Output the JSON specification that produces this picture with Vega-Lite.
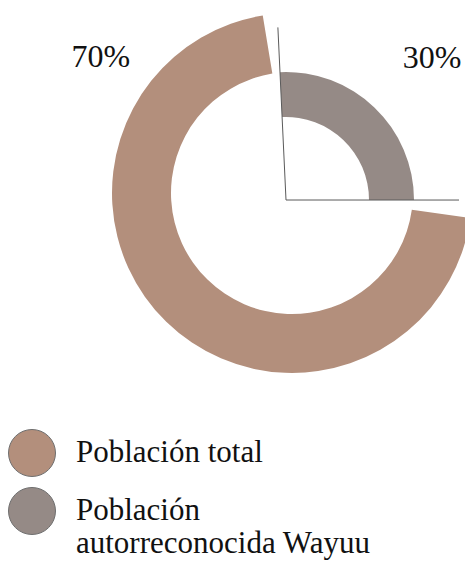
{
  "$schema": "https://vega.github.io/schema/vega-lite/v6.json",
  "width": 346,
  "height": 386,
  "autosize": {"type": "none"},
  "padding": {"left": 119, "top": 0, "right": 0, "bottom": 180},
  "background": "white",
  "config": {"view": {"stroke": null}},
  "data": {"values": [
    {"category": "Población total", "value": 70},
    {"category": "Población autorreconocida Wayuu", "value": 30}
  ]},
  "transform": [{"calculate": "datum.value + '%'", "as": "label"}],
  "layer": [
    {
      "transform": [{"filter": "datum.category == 'Población total'"}],
      "mark": {"type": "arc", "innerRadius": 121, "outerRadius": 180},
      "encoding": {
        "theta": {"field": "value", "type": "quantitative", "scale": {"domain": [0, 70], "range": [1.71, 6.12]}},
        "color": {
          "field": "category", "type": "nominal",
          "scale": {"domain": ["Población total", "Población autorreconocida Wayuu"], "range": ["#b38f7c", "#958a86"]},
          "legend": {
            "title": null, "orient": "none", "legendX": -111, "legendY": 429,
            "symbolType": "circle", "symbolSize": 2209, "symbolStrokeColor": "#6f6f6f", "symbolStrokeWidth": 1,
            "labelFont": "Liberation Serif", "labelFontSize": 31, "labelColor": "#111", "labelLimit": 0,
            "labelOffset": 20, "rowPadding": 6,
            "labelExpr": "datum.label == 'Población autorreconocida Wayuu' ? ['Población', 'autorreconocida Wayuu'] : datum.label"
          }
        }
      }
    },
    {
      "transform": [{"filter": "datum.category == 'Población autorreconocida Wayuu'"}],
      "layer": [
        {
          "mark": {"type": "arc", "innerRadius": 83, "outerRadius": 128, "xOffset": -6, "yOffset": 7},
          "encoding": {
            "theta": {"field": "value", "type": "quantitative", "scale": {"domain": [0, 30], "range": [-0.047, 1.571]}},
            "color": {"field": "category", "type": "nominal"}
          }
        },
        {
          "mark": {"type": "arc", "innerRadius": 0, "outerRadius": 173, "xOffset": -6, "yOffset": 7, "fill": null, "stroke": "#5a5a5a", "strokeWidth": 1, "strokeDash": [0, 280, 400, 2000]},
          "encoding": {
            "theta": {"field": "value", "type": "quantitative", "scale": {"domain": [0, 30], "range": [-0.047, 1.571]}}
          }
        }
      ]
    },
    {
      "transform": [{"filter": "datum.category == 'Población total'"}],
      "mark": {"type": "text", "radius": 229, "theta": 5.295, "font": "Liberation Serif", "fontSize": 32, "align": "center", "baseline": "alphabetic", "color": "#111"},
      "encoding": {"text": {"field": "label", "type": "nominal"}}
    },
    {
      "transform": [{"filter": "datum.category == 'Población autorreconocida Wayuu'"}],
      "mark": {"type": "text", "radius": 188, "theta": 0.841, "font": "Liberation Serif", "fontSize": 32, "align": "center", "baseline": "alphabetic", "color": "#111"},
      "encoding": {"text": {"field": "label", "type": "nominal"}}
    }
  ],
  "resolve": {"scale": {"theta": "independent"}}
}
